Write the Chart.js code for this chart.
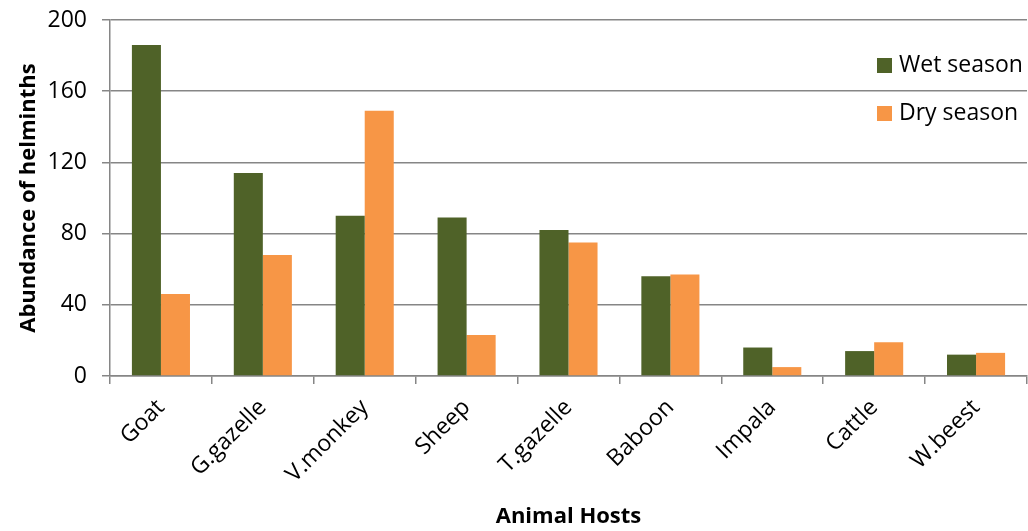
<!DOCTYPE html>
<html>
<head>
<meta charset="utf-8">
<script src="https://cdn.jsdelivr.net/npm/chart.js@4"></script>
<style>
  html, body { margin: 0; padding: 0; background: #fff; }
  #wrap { width: 1028px; height: 531px; }
</style>
</head>
<body>
<div id="wrap"><canvas id="chart"></canvas></div>
<script>
const hosts = ['Goat', 'G.gazelle', 'V.monkey', 'Sheep', 'T.gazelle', 'Baboon', 'Impala', 'Cattle', 'W.beest'];
const wetSeason = [186, 114, 90, 89, 82, 56, 16, 14, 12];
const drySeason = [46, 68, 149, 23, 75, 57, 5, 19, 13];
const yTicks = [0, 40, 80, 120, 160, 200];

const FONT = "'Open Sans', sans-serif";
const GRID = '#868686';

// legend drawn inside the plot, top right
const innerLegend = {
    id: 'innerLegend',
    afterDraw(chart) {
        const ctx = chart.ctx;
        const area = chart.chartArea;
        const x = area.right - 150;
        let y = area.top + 45;
        ctx.save();
        ctx.font = '23px ' + FONT;
        ctx.textBaseline = 'middle';
        chart.data.datasets.forEach(ds => {
            ctx.fillStyle = ds.backgroundColor;
            ctx.fillRect(x, y - 7, 15, 15);
            ctx.fillStyle = '#000';
            ctx.fillText(ds.label, x + 22, y);
            y += 48;
        });
        ctx.restore();
    }
};

new Chart(document.getElementById('chart'), {
    type: 'bar',
    data: {
        labels: hosts,
        datasets: [
            { label: 'Wet season', data: wetSeason, backgroundColor: '#4f6228' },
            { label: 'Dry season', data: drySeason, backgroundColor: '#f79646' }
        ]
    },
    options: {
        responsive: true,
        maintainAspectRatio: false,
        animation: false,
        layout: { padding: { top: 20, right: 1, left: 14, bottom: 1 } },
        datasets: { bar: { categoryPercentage: 0.57, barPercentage: 1.0 } },
        plugins: {
            legend: { display: false },
            tooltip: { enabled: false }
        },
        scales: {
            x: {
                afterFit: axis => { axis.height = 154; },
                grid: { drawOnChartArea: false, drawTicks: true, tickLength: 8, color: GRID, lineWidth: 1.5, offset: true },
                border: { color: GRID, width: 1.5 },
                ticks: { color: '#000', font: { family: FONT, size: 23 }, minRotation: 45, maxRotation: 45, padding: 10 },
                title: { display: true, text: 'Animal Hosts', color: '#000', font: { family: FONT, size: 22, weight: 'bold' }, padding: { top: 10, bottom: 0 } }
            },
            y: {
                min: 0,
                max: 200,
                afterFit: axis => {
                    axis.width = 96;
                    axis.paddingTop = 0;
                    axis.paddingBottom = 0;
                },
                afterBuildTicks: axis => { axis.ticks = yTicks.map(v => ({ value: v })); },
                grid: { color: GRID, lineWidth: 1.5, tickLength: 8 },
                border: { color: GRID, width: 1.5 },
                ticks: { color: '#000', font: { family: FONT, size: 23 }, padding: 15 },
                title: { display: true, text: 'Abundance of helminths', color: '#000', font: { family: FONT, size: 22, weight: 'bold' }, padding: { top: 2, bottom: 6 } }
            }
        }
    },
    plugins: [innerLegend]
});
</script>
</body>
</html>
